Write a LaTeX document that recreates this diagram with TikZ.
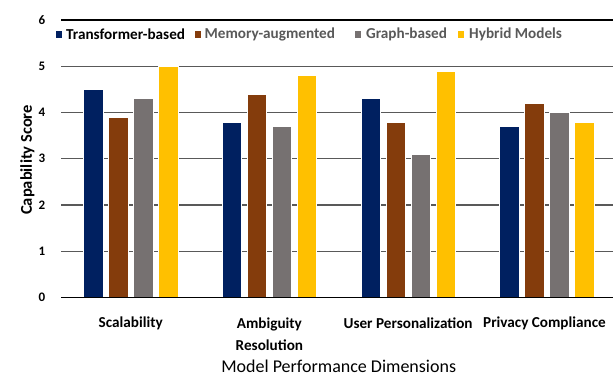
\documentclass[tikz,border=0pt]{standalone}
\usepackage{fontspec}
\setmainfont{Carlito}
\definecolor{cnavy}{HTML}{002060}
\definecolor{cbrown}{HTML}{843C0C}
\definecolor{cgray}{HTML}{767171}
\definecolor{cyellow}{HTML}{FFC000}
\definecolor{gridc}{HTML}{595959}
\definecolor{legtxt}{HTML}{595959}
\begin{document}
\begin{tikzpicture}[x=1pt,y=-1pt,
  gridline/.style={draw=gridc,line width=1.1pt},
  axisline/.style={draw=black,line width=1.1pt},
  bar/.style={draw=white,line width=0.4pt},
  ticklab/.style={font=\bfseries\fontsize{13}{13}\selectfont,anchor=center},
  catlab/.style={font=\bfseries\fontsize{15.2}{22}\selectfont,anchor=center,align=center},
  legsq/.style={minimum size=6.5pt,inner sep=0pt},
  legtext/.style={font=\bfseries\fontsize{15.2}{15.2}\selectfont,anchor=west,inner sep=0pt}]
\useasboundingbox (0,0) rectangle (613,378);
\fill[white] (0,0) rectangle (613,378);
% gridlines
\foreach \v in {1,...,5} {
  \draw[gridline] (61,{297.5-46.25*\v}) -- (613,{297.5-46.25*\v});
}
\draw[axisline] (61,{297.5-46.25*6}) -- (613,{297.5-46.25*6});
% tick labels
\foreach \v in {0,...,6} {
  \node[ticklab] (t\v) at (42,{297.5-46.25*\v}) {\v};
}
% bars
\foreach \g/\a/\b/\c/\d in {0/4.5/3.9/4.3/5.0, 1/3.8/4.4/3.7/4.8, 2/4.3/3.8/3.1/4.9, 3/3.7/4.2/4.0/3.8} {
  \pgfmathsetmacro{\xs}{83.3+138.7*\g}
  \fill[cnavy,bar] (\xs,297.5) rectangle ({\xs+19.5},{297.5-46.25*\a});
  \fill[cbrown,bar] ({\xs+25},297.5) rectangle ({\xs+44.5},{297.5-46.25*\b});
  \fill[cgray,bar] ({\xs+50},297.5) rectangle ({\xs+69.5},{297.5-46.25*\c});
  \fill[cyellow,bar] ({\xs+75},297.5) rectangle ({\xs+94.5},{297.5-46.25*\d});
}
\draw[axisline] (61,297.5) -- (613,297.5);
% category labels
\node[catlab] (c1) at (130.7,323) {Scalability};
\node[catlab] (c2) at (269.4,334) {Ambiguity\\Resolution};
\node[catlab] (c3) at (408.1,323) {User Personalization};
\node[catlab] (c4) at (544.5,323) {Privacy Compliance};
% axis titles
\node[font=\fontsize{18}{18}\selectfont] (xt) at (338.7,366) {Model Performance Dimensions};
\node[font=\bfseries\fontsize{16.5}{16.5}\selectfont,rotate=90] (yt) at (27.5,160) {Capability Score};
% legend
\node[legsq,fill=cnavy] (l1) at (59.2,34.7) {};
\node[legtext,text=black] (lt1) at (66,34.7) {Transformer-based};
\node[legsq,fill=cbrown] (l2) at (198,34.7) {};
\node[legtext,text=legtxt] (lt2) at (204.5,34.7) {Memory-augmented};
\node[legsq,fill=cgray] (l3) at (358,34.7) {};
\node[legtext,text=legtxt] (lt3) at (366,34.7) {Graph-based};
\node[legsq,fill=cyellow] (l4) at (461,34.7) {};
\node[legtext,text=legtxt] (lt4) at (469,34.7) {Hybrid Models};
\end{tikzpicture}
\end{document}
